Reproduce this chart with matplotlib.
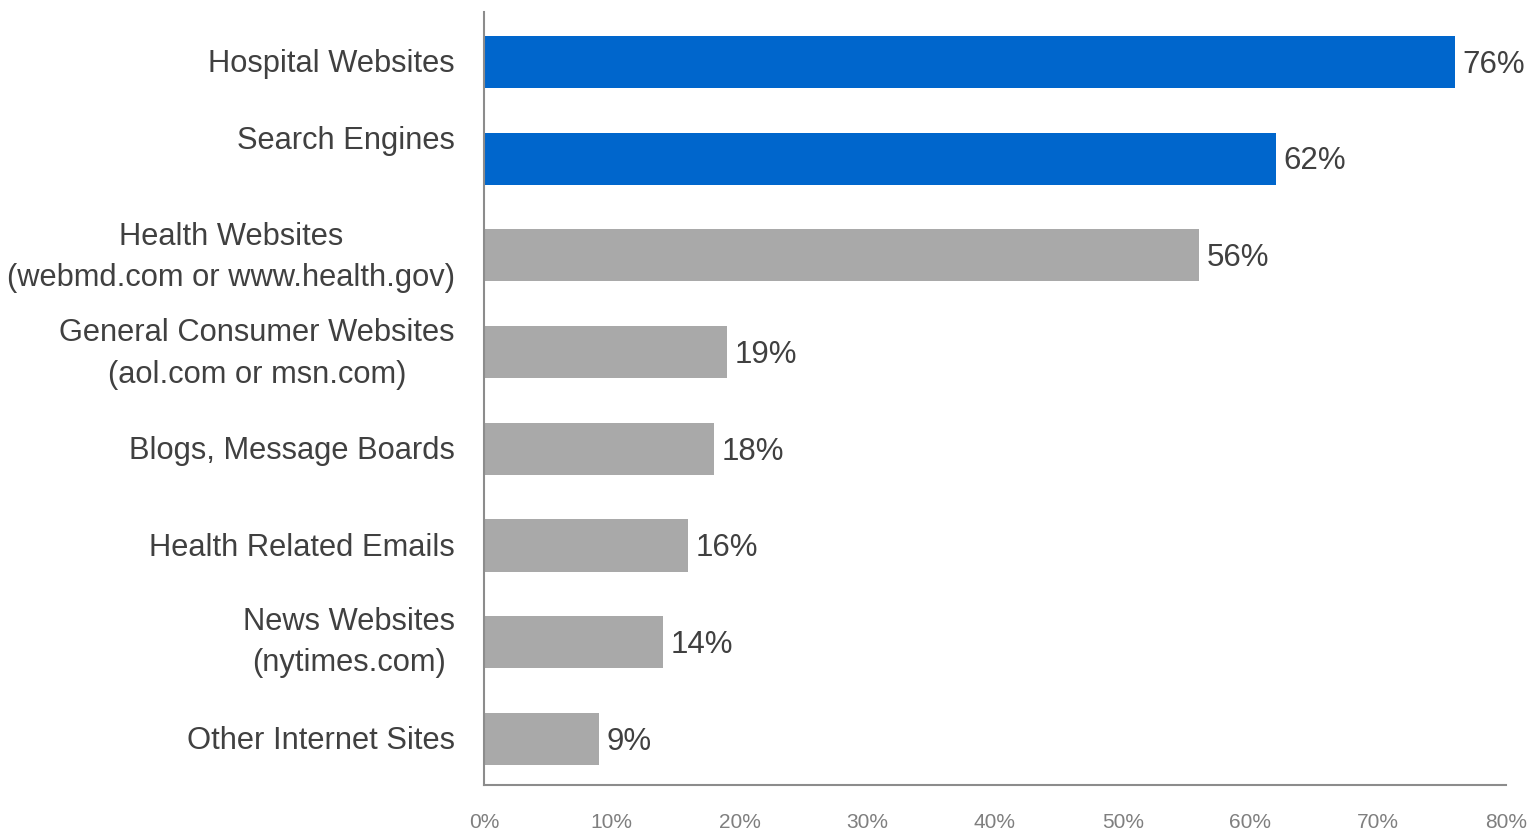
"""
Online sources used for health information, horizontal bar chart.
"""

import numpy as np
import matplotlib
matplotlib.use('Agg')
import matplotlib.pyplot as plt
import matplotlib.transforms as mtransforms
from matplotlib.ticker import FuncFormatter

matplotlib.rcParams['font.family'] = ['Liberation Sans', 'DejaVu Sans']

categories = ['Hospital Websites',
              'Search Engines',
              'Health Websites\n(webmd.com or www.health.gov)',
              'General Consumer Websites\n(aol.com or msn.com)',
              'Blogs, Message Boards',
              'Health Related Emails',
              'News Websites\n(nytimes.com)',
              'Other Internet Sites']
values = [76, 62, 56, 19, 18, 16, 14, 9]
highlight = [True, True, False, False, False, False, False, False]
xticks = [0, 10, 20, 30, 40, 50, 60, 70, 80]

BLUE = '#0066cc'
GREY = '#a9a9a9'
TEXT = '#404040'
AXIS = '#8c8c8c'


def main():
    """
    Draw the chart and save it.
    """
    fig = plt.figure(figsize=(15.34, 8.31), dpi=100)
    ax = fig.add_axes([0.3155, 0.0554, 0.6662, 0.9302])

    ypos = np.arange(len(categories))
    colors = [BLUE if h else GREY for h in highlight]
    ax.barh(ypos, values, height=0.54, color=colors, zorder=2)

    ax.set_xlim(0, 80)
    ax.set_ylim(7.476, -0.517)

    # value labels just past the end of each bar
    for y, v in zip(ypos, values):
        ax.annotate(f'{v}%', xy=(v, y), xytext=(5.5, -2), textcoords='offset points',
                    va='center', ha='left', fontsize=22.5, color=TEXT)

    # category labels, right aligned against the axis
    label_shift = [0, -0.2, 0, 0, 0, 0, -0.02, 0]
    trans = mtransforms.blended_transform_factory(ax.transAxes, ax.transData)
    trans = trans + mtransforms.ScaledTranslation(-29 / 100, -2 / 100,
                                                  fig.dpi_scale_trans)
    for y, text, dy in zip(ypos, categories, label_shift):
        ax.text(0, y + dy, text, transform=trans, ha='right', va='center',
                multialignment='center', linespacing=1.5,
                fontsize=22.2, color=TEXT)

    ax.set_yticks([])
    ax.set_xticks(xticks)
    ax.xaxis.set_major_formatter(FuncFormatter(lambda x, _: f'{x:.0f}%'))
    ax.tick_params(axis='x', length=0, pad=20.5, labelsize=15, labelcolor='#7f7f7f')

    for side in ['top', 'right']:
        ax.spines[side].set_visible(False)
    for side in ['left', 'bottom']:
        ax.spines[side].set_color(AXIS)
        ax.spines[side].set_linewidth(1.5)

    fig.savefig('out.png', dpi=100, facecolor='white')


if __name__ == "__main__":
    main()
